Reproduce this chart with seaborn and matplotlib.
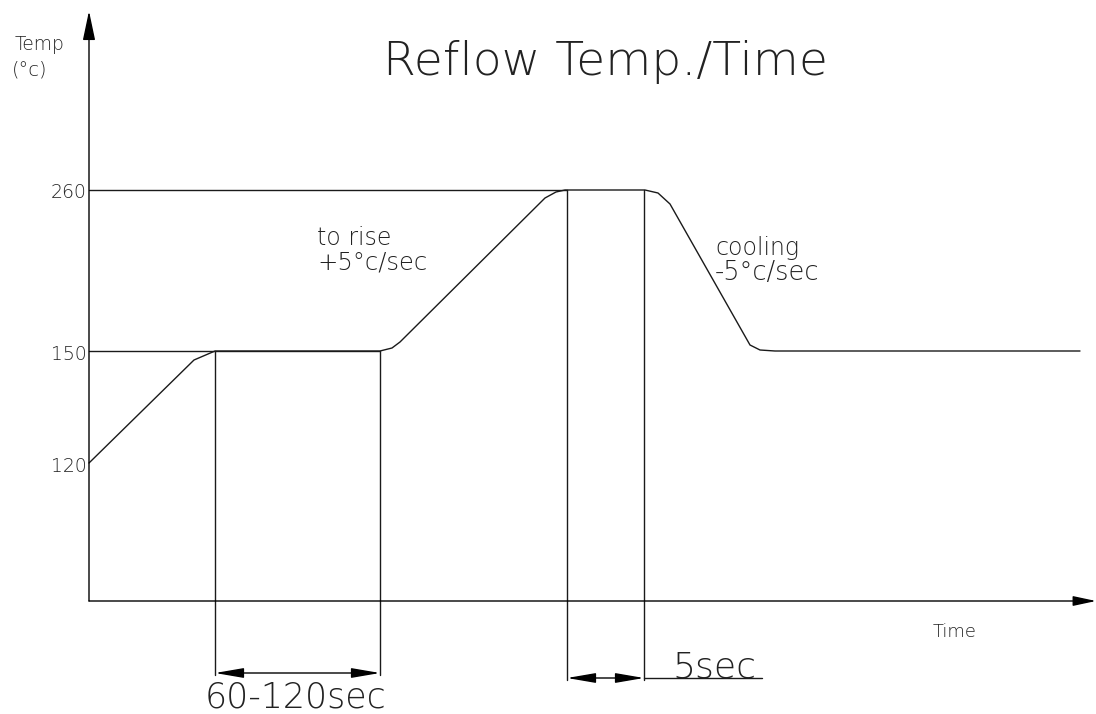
import matplotlib
matplotlib.use("Agg")
import matplotlib.pyplot as plt
import seaborn as sns

sns.set_theme(style="white")
plt.rcParams['font.family'] = ['DejaVu Sans']

# ---- data (schematic drawing units: t = time axis, h = height above time axis) ----
profile_t = [0, 105, 126, 291, 303, 311, 456, 467, 476, 556, 569, 581, 661, 671, 686, 991]
profile_h = [138, 241, 250, 250, 253, 259, 403, 409, 411, 411, 408, 397, 256, 251, 250, 250]

temp_labels = ["120", "150", "260"]
temp_levels = [138, 250, 411]

soak_start, soak_end = 126, 291          # 60-120sec window
peak_start, peak_end = 478, 555          # 5sec window
ref_150_end = 291
ref_260_end = 478

title = "Reflow Temp./Time"
rise_lines = ["to rise", "+5°c/sec"]
cool_lines = ["cooling", "-5°c/sec"]

# ---- figure ----
W, H = 1096, 714
fig = plt.figure(figsize=(W / 100, H / 100), dpi=100)
ax = fig.add_axes([0, 0, 1, 1])
ax.set_xlim(-89, W - 89)
ax.set_ylim(601 - H, 601)
ax.axis("off")

lc = "#1a1a1a"
lw = 1.0

# profile curve
sns.lineplot(x=profile_t, y=profile_h, sort=False, estimator=None,
             color=lc, linewidth=lw, ax=ax)

# reference horizontals
ax.plot([0, ref_150_end], [temp_levels[1]] * 2, color=lc, lw=lw)
ax.plot([0, ref_260_end], [temp_levels[2]] * 2, color=lc, lw=lw)

# verticals
ax.plot([soak_start] * 2, [temp_levels[1], -74], color=lc, lw=lw)
ax.plot([soak_end] * 2, [temp_levels[1], -74], color=lc, lw=lw)
ax.plot([peak_start] * 2, [temp_levels[2], -79], color=lc, lw=lw)
ax.plot([peak_end] * 2, [temp_levels[2], -79], color=lc, lw=lw)

# axes arrows
ax.annotate("", xy=(0, 590), xytext=(0, 0),
            arrowprops=dict(arrowstyle="-|>,head_length=1.8,head_width=0.38",
                            mutation_scale=10, color="black", lw=lw,
                            shrinkA=0, shrinkB=0))
ax.annotate("", xy=(1007, 0), xytext=(0, 0),
            arrowprops=dict(arrowstyle="-|>,head_length=1.4,head_width=0.3",
                            mutation_scale=10, color="black", lw=lw,
                            shrinkA=0, shrinkB=0))

# dimension arrows
dim_style = dict(arrowstyle="<|-|>,head_length=1.75,head_width=0.3",
                 mutation_scale=10, color="black", lw=lw, shrinkA=0, shrinkB=0)
ax.annotate("", xy=(soak_start, -72), xytext=(soak_end, -72), arrowprops=dim_style)
ax.annotate("", xy=(peak_start, -77), xytext=(peak_end, -77), arrowprops=dim_style)
ax.plot([peak_end, 673], [-77, -77], color=lc, lw=lw)

# texts
tc = "#222222"
fw = "ultralight"
for lab, lev in zip(temp_labels, temp_levels):
    ax.text(-2, lev - 3, lab, ha="right", va="center", fontsize=13.5,
            color=tc, fontweight=fw)

ax.text(-74, 551, "Temp", ha="left", va="baseline", fontsize=13.5, color=tc, fontweight=fw)
ax.text(-77, 526, "(°c)", ha="left", va="baseline", fontsize=14, color=tc, fontweight=fw)
ax.text(844, -36, "Time", ha="left", va="baseline", fontsize=13, color=tc, fontweight=fw)
ax.text(294, 526, title, ha="left", va="baseline", fontsize=34, color=tc, fontweight=fw)
ax.text(228, 356, rise_lines[0], ha="left", va="baseline", fontsize=17, color=tc, fontweight=fw)
ax.text(228, 331, rise_lines[1], ha="left", va="baseline", fontsize=17.5, color=tc, fontweight=fw)
ax.text(626, 346, cool_lines[0], ha="left", va="baseline", fontsize=17, color=tc, fontweight=fw)
ax.text(626, 321, cool_lines[1], ha="left", va="baseline", fontsize=18.5, color=tc, fontweight=fw)
ax.text(116, -107, "60-120sec", ha="left", va="baseline", fontsize=25, color=tc, fontweight=fw)
ax.text(583, -76, "5sec", ha="left", va="baseline", fontsize=26, color=tc, fontweight=fw)

fig.savefig("out.png", dpi=100, facecolor="white")
